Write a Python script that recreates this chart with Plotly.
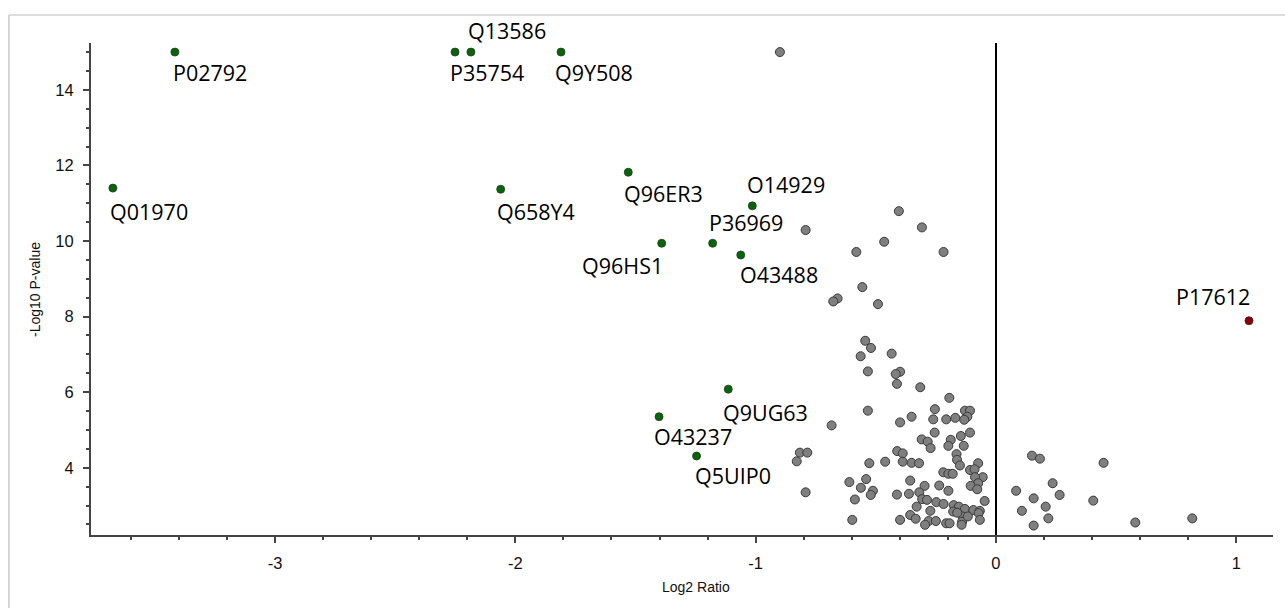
import plotly.graph_objects as go

# ---------------- data ----------------
gray_x = [-0.899, -0.404, -0.792, -0.308, -0.465, -0.581, -0.218, -0.556, -0.659, -0.677, -0.491,
          -0.544, -0.520, -0.563, -0.434, -0.533, -0.399, -0.417, -0.412, -0.315, -0.194,
          -0.533, -0.684, -0.254, -0.351, -0.399, -0.261, -0.207, -0.169, -0.129, -0.108,
          -0.119, -0.132, -0.255, -0.108, -0.146, -0.309, -0.284, -0.272, -0.188, -0.198,
          -0.134, -0.411, -0.388, -0.164, -0.162, -0.150, -0.816, -0.785, -0.829, -0.527,
          -0.461, -0.388, -0.351, -0.320, -0.074, -0.108, -0.089, -0.219, -0.198, -0.180,
          -0.055, -0.087, -0.074, -0.105, -0.078, -0.610, -0.540, -0.562, -0.512, -0.521,
          -0.587, -0.357, -0.297, -0.236, -0.198, -0.412, -0.362, -0.319, -0.307, -0.287,
          -0.248, -0.218, -0.176, -0.154, -0.129, -0.094, -0.067, -0.047, -0.330, -0.273,
          -0.178, -0.139, -0.072, -0.792, -0.598, -0.399, -0.357, -0.334, -0.280, -0.250,
          -0.207, -0.193, -0.141, -0.117, -0.067, -0.295, -0.143, -0.161,
          0.150, 0.183, 0.448, 0.236, 0.084, 0.265, 0.157, 0.405, 0.108, 0.207, 0.218,
          0.157, 0.580, 0.817]
gray_y = [15.00, 10.79, 10.29, 10.36, 9.98, 9.71, 9.71, 8.78, 8.48, 8.40, 8.33,
          7.36, 7.17, 6.95, 7.02, 6.55, 6.54, 6.48, 6.22, 6.13, 5.85,
          5.51, 5.12, 5.55, 5.35, 5.20, 5.28, 5.28, 5.32, 5.51, 5.51,
          5.35, 5.27, 4.93, 4.93, 4.84, 4.75, 4.69, 4.52, 4.74, 4.58,
          4.58, 4.44, 4.38, 4.36, 4.21, 4.06, 4.40, 4.40, 4.17, 4.12,
          4.16, 4.16, 4.13, 4.12, 4.12, 3.94, 3.96, 3.88, 3.84, 3.84,
          3.75, 3.75, 3.59, 3.52, 3.43, 3.62, 3.70, 3.47, 3.39, 3.28,
          3.16, 3.66, 3.52, 3.53, 3.39, 3.29, 3.31, 3.35, 3.17, 3.15,
          3.09, 3.04, 3.01, 2.97, 2.91, 2.88, 2.86, 3.12, 2.97, 2.86,
          2.84, 2.71, 2.80, 3.35, 2.62, 2.62, 2.75, 2.65, 2.59, 2.59,
          2.53, 2.53, 2.57, 2.71, 2.62, 2.49, 2.49, 2.81,
          4.32, 4.24, 4.13, 3.59, 3.39, 3.28, 3.19, 3.13, 2.86, 2.97, 2.66,
          2.47, 2.55, 2.66]

green_labels = ["P02792", "P35754", "Q13586", "Q9Y508", "Q01970", "Q658Y4", "Q96ER3",
                "O14929", "P36969", "Q96HS1", "O43488", "Q9UG63", "O43237", "Q5UIP0"]
green_x = [-3.417, -2.251, -2.185, -1.810, -3.675, -2.061, -1.530,
           -1.014, -1.179, -1.391, -1.062, -1.114, -1.402, -1.246]
green_y = [15.00, 15.00, 15.00, 15.00, 11.40, 11.37, 11.82,
           10.93, 9.94, 9.94, 9.63, 6.08, 5.35, 4.31]

red_labels = ["P17612"]
red_x = [1.053]
red_y = [7.89]

x_ticks = [-3, -2, -1, 0, 1]
x_tick_text = ["-3", "-2", "-1", "0", "1"]
y_ticks = [4, 6, 8, 10, 12, 14]
y_tick_text = ["4", "6", "8", "10", "12", "14"]

# label placement style: (xanchor, xshift, yshift)
label_style = {
    "P02792": ("left", -4, -20), "P35754": ("left", -7, -20), "Q13586": ("left", -5, 22),
    "Q9Y508": ("left", -8, -20), "Q01970": ("left", -5, -23), "Q658Y4": ("left", -6, -22),
    "Q96ER3": ("left", -6, -21), "O14929": ("left", -7, 21), "P36969": ("left", -6, 21),
    "Q96HS1": ("right", 3, -22), "O43488": ("left", -3, -20), "Q9UG63": ("left", -7, -23),
    "O43237": ("left", -7, -20), "Q5UIP0": ("left", -4, -19), "P17612": ("right", 3, 24),
}

AX_FONT = "Liberation Sans"

# ---------------- figure ----------------
fig = go.Figure()
fig.add_trace(go.Scatter(x=gray_x, y=gray_y, mode="markers", hoverinfo="x+y",
                         marker=dict(size=9, color="#7f7f7f", line=dict(color="#3a3a3a", width=1))))
fig.add_trace(go.Scatter(x=green_x, y=green_y, mode="markers", text=green_labels,
                         marker=dict(size=8, color="#0b640b", line=dict(color="#1f3d1f", width=0.8))))
fig.add_trace(go.Scatter(x=red_x, y=red_y, mode="markers", text=red_labels,
                         marker=dict(size=8, color="#8b0000", line=dict(color="#3d1f1f", width=0.8))))

for lab, x, y in zip(green_labels + red_labels, green_x + red_x, green_y + red_y):
    xa, xs, ys = label_style[lab]
    fig.add_annotation(x=x, y=y, text=lab, showarrow=False, xanchor=xa, yanchor="middle",
                       xshift=xs, yshift=ys,
                       font=dict(family="Open Sans", size=21.5, color="#000000"))

axis_common = dict(showline=True, linecolor="#444444", linewidth=2, ticks="outside",
                   ticklen=6, tickwidth=1.5, tickcolor="#444444", showgrid=False,
                   tickfont=dict(family=AX_FONT, size=16.5, color="#111111"),
                   mirror=False)

fig.update_xaxes(range=[-3.766, 1.153], tickvals=x_ticks, ticktext=x_tick_text,
                 zeroline=True, zerolinecolor="#000000", zerolinewidth=1.5,
                 minor=dict(dtick=0.2, tick0=0, ticks="outside", ticklen=3, tickcolor="#444444",
                            tickwidth=1.5, showgrid=False),
                 ticklabelstandoff=6, **axis_common)
fig.update_yaxes(range=[2.22, 15.24], tickvals=y_ticks, ticktext=y_tick_text, zeroline=False,
                 minor=dict(dtick=0.5, tick0=0, ticks="outside", ticklen=3, tickcolor="#444444",
                            tickwidth=1.5, showgrid=False),
                 ticklabelstandoff=6, **axis_common)

fig.add_annotation(text="Log2 Ratio", xref="paper", yref="paper", x=0.512, y=-0.1057,
                   showarrow=False, xanchor="center", yanchor="middle",
                   font=dict(family=AX_FONT, size=14, color="#111111"))
fig.add_annotation(text="-Log10 P-value", xref="paper", yref="paper", x=-0.0474, y=0.5,
                   showarrow=False, textangle=-90, xanchor="center", yanchor="middle",
                   font=dict(family=AX_FONT, size=14, color="#111111"))

# light outer frame (top and left edges visible)
fig.add_shape(type="line", xref="paper", yref="paper", x0=-0.0694, x1=1.2, y0=1.0569, y1=1.0569,
              line=dict(color="#bbbbbb", width=1.2))
fig.add_shape(type="line", xref="paper", yref="paper", x0=-0.0694, x1=-0.0694, y0=1.0569, y1=-0.3,
              line=dict(color="#bbbbbb", width=1.2))

fig.update_layout(width=1285, height=608, showlegend=False,
                  margin=dict(l=91, r=12, t=43, b=73),
                  paper_bgcolor="white", plot_bgcolor="white")

fig.write_html("out.html")
